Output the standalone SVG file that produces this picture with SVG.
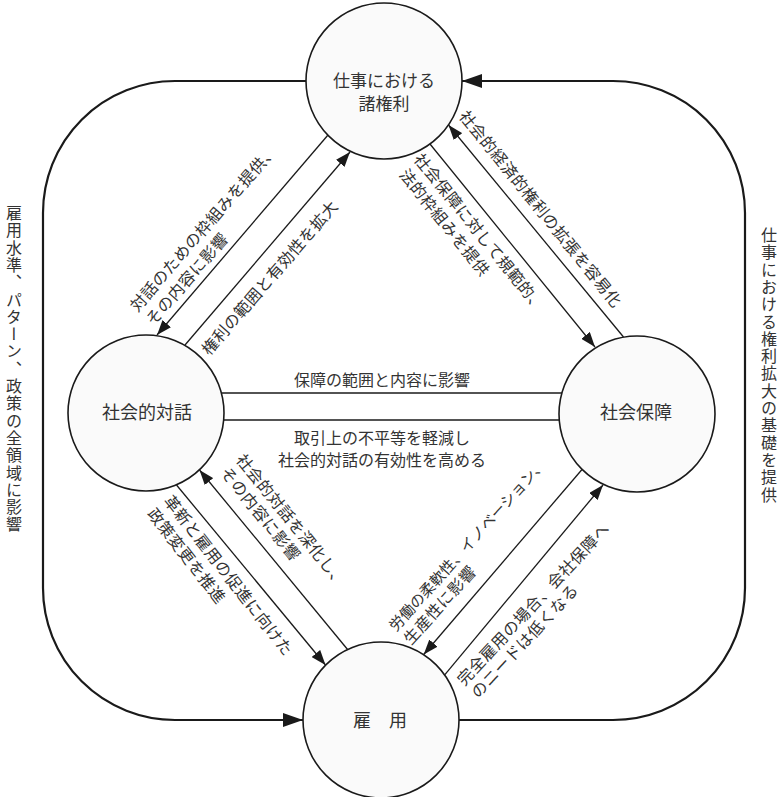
<svg xmlns="http://www.w3.org/2000/svg" width="782" height="797" viewBox="0 0 782 797">
<style>
.t{font-family:"Noto Sans CJK JP","Noto Sans CJK SC",sans-serif;fill:#333;font-size:16px;}
.n{font-size:18px;text-anchor:middle;}
.d{letter-spacing:0.5px;}
.c{fill:#fafafa;stroke:#1a1a1a;stroke-width:1.6;}
.ln{fill:none;stroke:#1a1a1a;stroke-width:1.3;}
.fr{fill:none;stroke:#1a1a1a;stroke-width:2.2;}
.v{writing-mode:vertical-rl;letter-spacing:1.3px;}
</style>
<defs>
<marker id="a" markerUnits="userSpaceOnUse" markerWidth="15" markerHeight="11" viewBox="0 0 15 11" refX="15" refY="5.5" orient="auto"><path d="M0,0 L15,5.5 L0,11 z" fill="#1a1a1a"/></marker>
<marker id="b" markerUnits="userSpaceOnUse" markerWidth="20" markerHeight="14" viewBox="0 0 20 14" refX="20" refY="7" orient="auto"><path d="M0,0 L20,7 L0,14 z" fill="#1a1a1a"/></marker>
</defs>
<rect width="782" height="797" fill="#fff"/>
<g id="connectors">
<path class="fr" d="M306,81 H175 A132,132 0 0 0 43,213 V588 A132,132 0 0 0 175,720 H303" marker-end="url(#b)"/>
<path class="fr" d="M459,720 H613 A132,132 0 0 0 745,588 V213 A132,132 0 0 0 613,81 H462" marker-end="url(#b)"/>
<line class="ln" x1="328" y1="135" x2="157" y2="335" marker-end="url(#a)"/>
<line class="ln" x1="185" y1="345" x2="350" y2="152" marker-end="url(#a)"/>
<line class="ln" x1="430" y1="144" x2="595" y2="347" marker-end="url(#a)"/>
<line class="ln" x1="623.5" y1="337" x2="448.5" y2="125" marker-end="url(#a)"/>
<line class="ln" x1="176.5" y1="485" x2="325.5" y2="665" marker-end="url(#a)"/>
<line class="ln" x1="348" y1="650" x2="199.5" y2="470" marker-end="url(#a)"/>
<line class="ln" x1="582" y1="469.5" x2="423.7" y2="654.5" marker-end="url(#a)"/>
<line class="ln" x1="444.7" y1="674.8" x2="603" y2="485" marker-end="url(#a)"/>
<line class="ln" x1="221.5" y1="393" x2="562" y2="393"/>
<line class="ln" x1="223.7" y1="420" x2="559.2" y2="420"/>
</g>
<g id="node-rights">
<circle class="c" cx="384" cy="81" r="78"/>
<text class="t n" x="384" y="87" style="font-size:17px">仕事における</text>
<text class="t n" x="384" y="110" style="font-size:17px">諸権利</text>
</g>
<g id="node-dialogue">
<circle class="c" cx="146" cy="413" r="78"/>
<text class="t n" x="147" y="419">社会的対話</text>
</g>
<g id="node-security">
<circle class="c" cx="637" cy="414" r="78"/>
<text class="t n" x="636" y="419">社会保障</text>
</g>
<g id="node-employment">
<circle class="c" cx="381" cy="720" r="78"/>
<text class="t n" x="380" y="727">雇　用</text>
</g>
<g id="labels">
<text class="t" x="382" y="386" text-anchor="middle">保障の範囲と内容に影響</text>
<text class="t" x="382" y="444" text-anchor="middle">取引上の不平等を軽減し</text>
<text class="t" x="382" y="466" text-anchor="middle">社会的対話の有効性を高める</text>
<g transform="translate(133.1,308.7) rotate(-49)">
<text class="t d" x="0" y="6">対話のための枠組みを提供、</text>
<text class="t d" x="0" y="27">その内容に影響</text>
</g>
<g transform="translate(204.6,352.3) rotate(-49)">
<text class="t d" x="0" y="6">権利の範囲と有効性を拡大</text>
</g>
<g transform="translate(462.9,112.6) rotate(51)">
<text class="t d" x="0" y="6">社会的経済的権利の拡張を容易化</text>
</g>
<g transform="translate(417.7,155.7) rotate(51)">
<text class="t d" x="0" y="6">社会保障に対して規範的、</text>
<text class="t d" x="3" y="27">法的枠組みを提供</text>
</g>
<g transform="translate(239.8,456.3) rotate(51)">
<text class="t d" x="0" y="6">社会的対話を深化し、</text>
<text class="t d" x="0" y="26">その内容に影響</text>
</g>
<g transform="translate(167.8,497.3) rotate(52)">
<text class="t d" x="0" y="6">革新と雇用の促進に向けた</text>
<text class="t d" x="0" y="27">政策変更を推進</text>
</g>
<g transform="translate(391.6,628.3) rotate(-48)">
<text class="t" x="0" y="6" style="font-size:15px;letter-spacing:0.1px">労働の柔軟性、イノベーション、</text>
<text class="t d" x="0" y="26">生産性に影響</text>
</g>
<g transform="translate(460,682.3) rotate(-47)">
<text class="t d" x="0" y="6">完全雇用の場合、会社保障へ</text>
<text class="t d" x="0" y="25">のニードは低くなる</text>
</g>
<text class="t v" x="14" y="205">雇用水準、パターン、政策の全領域に影響</text>
<text class="t v" x="769" y="227">仕事における権利拡大の基礎を提供</text>
</g>
</svg>
